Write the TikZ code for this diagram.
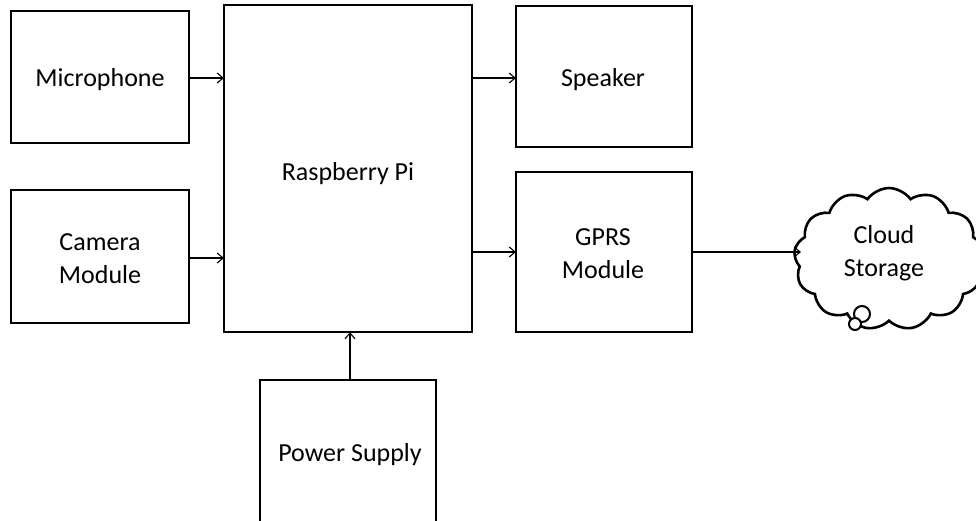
\documentclass[tikz,border=0pt]{standalone}
\usepackage{fontspec}
\setmainfont{Carlito}
\usetikzlibrary{arrows.meta,shapes.symbols}
\begin{document}
\begin{tikzpicture}[x=1pt,y=-1pt,
  blk/.style={draw,line width=2.6pt,fill=white},
  lbl/.style={font=\fontsize{26}{33}\selectfont,align=center},
  conn/.style={line width=1.1pt,-{Straight Barb[length=6pt,width=10pt,line width=1.1pt]}}]
\useasboundingbox (0,0) rectangle (976,520);
\fill[white] (0,0) rectangle (976,520);
% boxes
\draw[blk] (11,11) rectangle (189,143);
\coordinate (micE) at (189,78);
\draw[blk] (11,190) rectangle (189,323);
\coordinate (camE) at (189,258);
\draw[blk] (224,5) rectangle (472,332);
\draw[blk] (516,6) rectangle (692,147);
\draw[blk] (516,172) rectangle (692,332);
\draw[blk] (260,380) rectangle (436,540);
% labels
\node[lbl] (mic) at (100,80) {Microphone};
\node[lbl] (cam) at (100,259) {Camera\\Module};
\node[lbl] (rpi) at (348,174) {Raspberry Pi};
\node[lbl] (spk) at (603,80) {Speaker};
\node[lbl] (gprs) at (603,254) {GPRS\\Module};
\node[lbl] (pwr) at (350,455) {Power Supply};
% cloud
\node[cloud,draw,line width=2.6pt,cloud puffs=13,cloud puff arc=110,aspect=1.35,
  minimum width=190pt,minimum height=142pt,fill=white] (cloud) at (889,259) {};
\node[lbl] (cloudtxt) at (884,253) {Cloud\\Storage};
\draw[line width=2pt,fill=white] (862,314) circle (8);
\draw[line width=2pt,fill=white] (855,324) circle (6);
% connector coordinates
\coordinate (rpiW1) at (224,78);
\coordinate (rpiW2) at (224,258);
\coordinate (rpiE1) at (472,78);
\coordinate (rpiE2) at (472,252);
\coordinate (spkW) at (516,78);
\coordinate (gprsW) at (516,252);
\coordinate (gprsE) at (692,252);
\coordinate (cloudW) at (801,252);
\coordinate (pwrN) at (350,380);
\coordinate (rpiS) at (350,332);
\draw[conn] (micE) -- (rpiW1);
\draw[conn] (camE) -- (rpiW2);
\draw[conn] (rpiE1) -- (spkW);
\draw[conn] (rpiE2) -- (gprsW);
\draw[conn] (gprsE) -- (cloudW);
\draw[conn] (pwrN) -- (rpiS);
\end{tikzpicture}
\end{document}
